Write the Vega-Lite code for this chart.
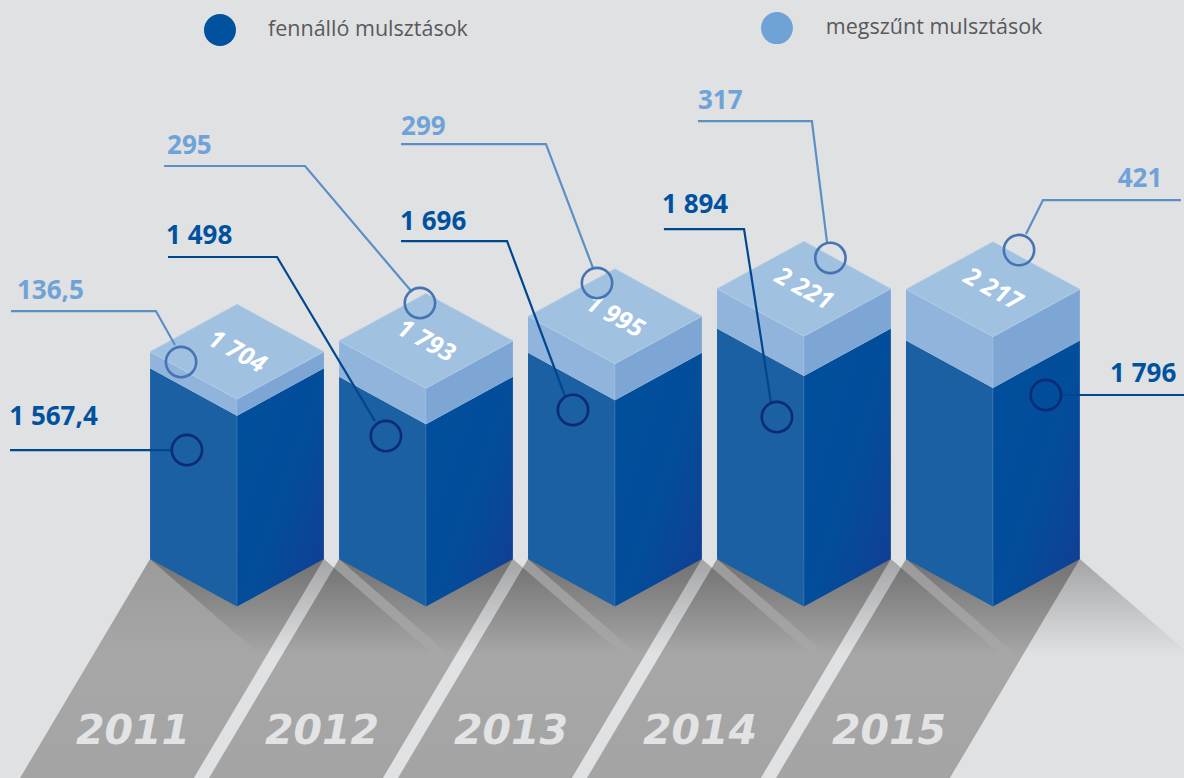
{"$schema":"https://vega.github.io/schema/vega-lite/v6.json","width":1184,"height":778,"autosize":{"type":"none"},"padding":0,"background":"#e0e1e3","config":{"view":{"stroke":null}},
"resolve":{"scale":{"stroke":"independent"}},
"datasets":{
"bars":[
{"year":2011,"fennallo":1567.4,"megszunt":136.5,"total":1704,"totalLabel":"1 704"},
{"year":2012,"fennallo":1498,"megszunt":295,"total":1793,"totalLabel":"1 793"},
{"year":2013,"fennallo":1696,"megszunt":299,"total":1995,"totalLabel":"1 995"},
{"year":2014,"fennallo":1894,"megszunt":317,"total":2221,"totalLabel":"2 221"},
{"year":2015,"fennallo":1796,"megszunt":421,"total":2217,"totalLabel":"2 217"}],
"leaders":[
{"id":"d2011","o":0,"series":"fennálló","x":2009.799,"y":1286},{"id":"d2011","o":1,"series":"fennálló","x":2010.656,"y":1286},
{"id":"d2012","o":0,"series":"fennálló","x":2010.635,"y":2872},{"id":"d2012","o":1,"series":"fennálló","x":2011.212,"y":2872},{"id":"d2012","o":2,"series":"fennálló","x":2011.73,"y":1524},
{"id":"d2013","o":0,"series":"fennálló","x":2011.868,"y":3003},{"id":"d2013","o":1,"series":"fennálló","x":2012.429,"y":3003},{"id":"d2013","o":2,"series":"fennálló","x":2012.735,"y":1730},
{"id":"d2014","o":0,"series":"fennálló","x":2013.259,"y":3102},{"id":"d2014","o":1,"series":"fennálló","x":2013.683,"y":3102},{"id":"d2014","o":2,"series":"fennálló","x":2013.825,"y":1680},
{"id":"d2015","o":0,"series":"fennálló","x":2016.011,"y":1738},{"id":"d2015","o":1,"series":"fennálló","x":2015.355,"y":1738},
{"id":"l2011","o":0,"series":"megszűnt","x":2009.804,"y":2428},{"id":"l2011","o":1,"series":"megszűnt","x":2010.571,"y":2428},{"id":"l2011","o":2,"series":"megszűnt","x":2010.672,"y":2149},
{"id":"l2012","o":0,"series":"megszűnt","x":2010.614,"y":3620},{"id":"l2012","o":1,"series":"megszűnt","x":2011.36,"y":3620},{"id":"l2012","o":2,"series":"megszűnt","x":2011.926,"y":2584},
{"id":"l2013","o":0,"series":"megszűnt","x":2011.868,"y":3800},{"id":"l2013","o":1,"series":"megszűnt","x":2012.635,"y":3800},{"id":"l2013","o":2,"series":"megszűnt","x":2012.884,"y":2781},
{"id":"l2014","o":0,"series":"megszűnt","x":2013.439,"y":3989},{"id":"l2014","o":1,"series":"megszűnt","x":2014.042,"y":3989},{"id":"l2014","o":2,"series":"megszűnt","x":2014.122,"y":2995},
{"id":"l2015","o":0,"series":"megszűnt","x":2015.995,"y":3340},{"id":"l2015","o":1,"series":"megszűnt","x":2015.265,"y":3340},{"id":"l2015","o":2,"series":"megszűnt","x":2015.175,"y":3061}],
"circles":[
{"series":"fennálló","x":2010.735,"y":1286},{"series":"fennálló","x":2011.788,"y":1401},{"series":"fennálló","x":2012.778,"y":1615},{"series":"fennálló","x":2013.857,"y":1557},{"series":"fennálló","x":2015.28,"y":1738},
{"series":"megszűnt","x":2010.704,"y":2009},{"series":"megszűnt","x":2011.968,"y":2494},{"series":"megszűnt","x":2012.905,"y":2658},{"series":"megszűnt","x":2014.14,"y":2864},{"series":"megszűnt","x":2015.138,"y":2929}],
"labels":[
{"series":"fennálló","text":"1 567,4","x":2009.795,"y":1495},{"series":"fennálló","text":"1 498","x":2010.625,"y":2975},{"series":"fennálló","text":"1 696","x":2011.863,"y":3090},{"series":"fennálló","text":"1 894","x":2013.249,"y":3230},{"series":"fennálló","text":"1 796","x":2015.62,"y":1845},
{"series":"megszűnt","text":"136,5","x":2009.836,"y":2531},{"series":"megszűnt","text":"295","x":2010.63,"y":3715},{"series":"megszűnt","text":"299","x":2011.868,"y":3874},{"series":"megszűnt","text":"317","x":2013.439,"y":4088},{"series":"megszűnt","text":"421","x":2015.66,"y":3447}],
"legend":[
{"series":"fennálló","text":"fennálló mulsztások","x":2010.91,"tx":2011.164,"y":4737},
{"series":"megszűnt","text":"megszűnt mulsztások","x":2013.857,"tx":2014.116,"y":4753}]
},
"encoding":{
"x":{"field":"x","type":"quantitative","scale":{"domain":[2009.746,2016.011],"nice":false,"zero":false},"axis":null},
"y":{"field":"y","type":"quantitative","scale":{"domain":[-1409,4984],"nice":false,"zero":false},"axis":null}},
"layer":[
{"data":{"name":"bars"},"transform":[{"calculate":"[0,1]","as":"t"},{"flatten":["t"]},{"calculate":"390-1799*datum.t","as":"y"},{"calculate":"datum.year-0.46-0.688*datum.t","as":"x"},{"calculate":"datum.year+0.46-0.688*datum.t","as":"x2"}],
"mark":{"type":"area","orient":"horizontal","color":{"gradient":"linear","x1":0,"y1":0,"x2":0,"y2":1,"stops":[{"offset":0,"color":"#9b9b9c"},{"offset":0.45,"color":"#a7a7a8"},{"offset":1,"color":"#a4a4a5"}]}},
"encoding":{"x2":{"field":"x2"},"detail":{"field":"year"}}},
{"data":{"name":"bars"},"transform":[{"calculate":"[0,1]","as":"t"},{"flatten":["t"]},{"calculate":"390-790*datum.t","as":"y"},{"calculate":"datum.year-0.46+0.585*datum.t","as":"x"},{"calculate":"datum.year+0.46+0.585*datum.t","as":"x2"}],
"mark":{"type":"area","orient":"horizontal","clip":true,"color":{"gradient":"linear","x1":0,"y1":0,"x2":0,"y2":1,"stops":[{"offset":0,"color":"rgba(0,0,0,0.27)"},{"offset":1,"color":"rgba(0,0,0,0)"}]}},
"encoding":{"x2":{"field":"x2"},"detail":{"field":"year"}}},
{"data":{"name":"bars"},"transform":[{"calculate":"[-1,0]","as":"s"},{"flatten":["s"]},{"calculate":"datum.year+0.46*datum.s","as":"x"},{"calculate":"datum.fennallo-390*datum.s","as":"y"},{"calculate":"-390*datum.s","as":"y2"}],
"mark":{"type":"area","orient":"vertical","color":"#1a60a2"},"encoding":{"y2":{"field":"y2"},"detail":{"field":"year"}}},
{"data":{"name":"bars"},"transform":[{"calculate":"[0,1]","as":"s"},{"flatten":["s"]},{"calculate":"datum.year+0.46*datum.s","as":"x"},{"calculate":"datum.fennallo+390*datum.s","as":"y"},{"calculate":"390*datum.s","as":"y2"}],
"mark":{"type":"area","orient":"vertical","color":{"gradient":"linear","x1":0,"y1":0,"x2":1,"y2":1,"stops":[{"offset":0,"color":"#004f9c"},{"offset":0.55,"color":"#034d9b"},{"offset":1,"color":"#133c93"}]}},"encoding":{"y2":{"field":"y2"},"detail":{"field":"year"}}},
{"data":{"name":"bars"},"transform":[{"calculate":"[-1,0]","as":"s"},{"flatten":["s"]},{"calculate":"datum.year+0.46*datum.s","as":"x"},{"calculate":"datum.total-390*datum.s","as":"y"},{"calculate":"datum.fennallo-390*datum.s","as":"y2"}],
"mark":{"type":"area","orient":"vertical","color":"#90b4db"},"encoding":{"y2":{"field":"y2"},"detail":{"field":"year"}}},
{"data":{"name":"bars"},"transform":[{"calculate":"[0,1]","as":"s"},{"flatten":["s"]},{"calculate":"datum.year+0.46*datum.s","as":"x"},{"calculate":"datum.total+390*datum.s","as":"y"},{"calculate":"datum.fennallo+390*datum.s","as":"y2"}],
"mark":{"type":"area","orient":"vertical","color":"#7da6d5"},"encoding":{"y2":{"field":"y2"},"detail":{"field":"year"}}},
{"data":{"name":"bars"},"transform":[{"calculate":"[-1,0,1]","as":"s"},{"flatten":["s"]},{"calculate":"datum.year+0.46*datum.s","as":"x"},{"calculate":"datum.total+780-390*abs(datum.s)","as":"y"},{"calculate":"datum.total+390*abs(datum.s)","as":"y2"}],
"mark":{"type":"area","orient":"vertical","color":"#a1c1e0","stroke":"#b4cee8","strokeWidth":0.7},"encoding":{"y2":{"field":"y2"},"detail":{"field":"year"}}},
{"data":{"name":"bars"},"transform":[{"calculate":"datum.year","as":"x"},{"calculate":"datum.total","as":"y"},{"calculate":"0","as":"y2"}],
"mark":{"type":"rule","color":"#ffffff","opacity":0.13,"strokeWidth":1},"encoding":{"y2":{"field":"y2"}}},
{"data":{"name":"bars"},"transform":[{"calculate":"datum.year-0.55","as":"x"},{"calculate":"-1030","as":"y"}],
"mark":{"type":"text","font":"DejaVu Sans","fontWeight":"bold","fontStyle":"oblique","fontSize":41,"color":"#e2e3e5","align":"center","baseline":"middle"},"encoding":{"text":{"field":"year","type":"nominal"}}},
{"data":{"name":"bars"},"transform":[{"calculate":"datum.year","as":"x"},{"calculate":"datum.total+390","as":"y"}],
"mark":{"type":"text","font":"Open Sans","fontWeight":"bold","fontStyle":"italic","fontSize":25,"color":"#ffffff","align":"center","baseline":"middle","angle":29},"encoding":{"text":{"field":"totalLabel","type":"nominal"}}},
{"data":{"name":"leaders"},"mark":{"type":"line","strokeWidth":2.2,"strokeCap":"butt"},
"encoding":{"order":{"field":"o","type":"quantitative"},"detail":{"field":"id"},"stroke":{"field":"series","type":"nominal","scale":{"domain":["fennálló","megszűnt"],"range":["#004790","#5c8fc6"]},"legend":null}}},
{"data":{"name":"circles"},"mark":{"type":"point","shape":"circle","filled":false,"size":920,"strokeWidth":2.6,"opacity":1},
"encoding":{"stroke":{"field":"series","type":"nominal","scale":{"domain":["fennálló","megszűnt"],"range":["#0c2a75","#4474b4"]},"legend":null}}},
{"data":{"name":"labels"},"mark":{"type":"text","font":"Open Sans","fontWeight":"bold","fontSize":26,"align":"left","baseline":"alphabetic"},
"encoding":{"text":{"field":"text","type":"nominal"},"color":{"field":"series","type":"nominal","scale":{"domain":["fennálló","megszűnt"],"range":["#00529f","#6fa3d8"]},"legend":null}}},
{"data":{"name":"legend"},"mark":{"type":"point","shape":"circle","filled":true,"size":1024,"opacity":1},
"encoding":{"color":{"field":"series","type":"nominal","scale":{"domain":["fennálló","megszűnt"],"range":["#00529f","#6fa3d8"]},"legend":null}}},
{"data":{"name":"legend"},"mark":{"type":"text","font":"Open Sans","fontSize":21.5,"color":"#58595b","align":"left","baseline":"middle"},
"encoding":{"x":{"field":"tx","type":"quantitative"},"text":{"field":"text","type":"nominal"}}}
]}
